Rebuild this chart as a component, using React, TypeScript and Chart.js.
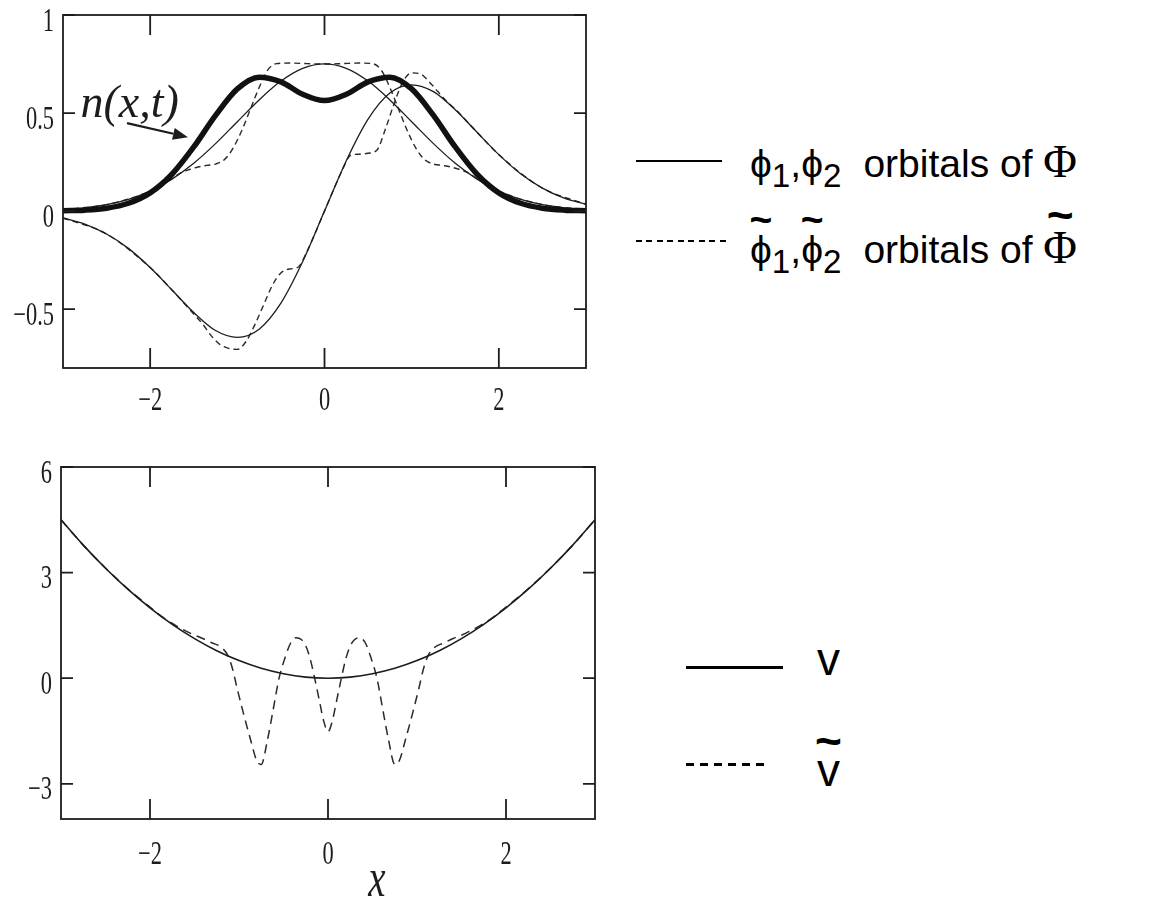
import React, { useEffect, useRef } from "react";
import { Chart, registerables } from "chart.js";

Chart.register(...registerables);

// ---------- upper panel: orbitals and the density n(x,t) ----------
const xGrid = [-3, -2.75, -2.5, -2.25, -2, -1.75, -1.5, -1.25, -1, -0.75, -0.5, -0.25, 0, 0.25, 0.5, 0.75, 1, 1.25, 1.5, 1.75, 2, 2.25, 2.5, 2.75, 3];

const densityN = [0.002, 0.005, 0.015, 0.04, 0.093, 0.188, 0.327, 0.488, 0.623, 0.683, 0.659, 0.596, 0.564, 0.596, 0.659, 0.683, 0.623, 0.488, 0.327, 0.188, 0.093, 0.04, 0.015, 0.005, 0.002];

const phiOne = [0.008, 0.017, 0.033, 0.06, 0.102, 0.163, 0.244, 0.344, 0.456, 0.567, 0.663, 0.728, 0.751, 0.728, 0.663, 0.567, 0.456, 0.344, 0.244, 0.163, 0.102, 0.06, 0.033, 0.017, 0.008];

const phiTwo = [-0.035, -0.066, -0.117, -0.19, -0.288, -0.402, -0.517, -0.609, -0.644, -0.602, -0.469, -0.257, 0, 0.257, 0.469, 0.602, 0.644, 0.609, 0.517, 0.402, 0.288, 0.19, 0.117, 0.066, 0.035];

const phiOneTildeX = [-3, -2.5, -2, -1.75, -1.65, -1.55, -1.45, -1.35, -1.25, -1.15, -1.05, -0.95, -0.85, -0.75, -0.65, -0.55, -0.4, -0.2, 0, 0.2, 0.4, 0.55, 0.65, 0.75, 0.85, 0.95, 1.05, 1.15, 1.25, 1.35, 1.45, 1.55, 1.65, 1.75, 2, 2.5, 3];
const phiOneTilde = [0.008, 0.033, 0.102, 0.165, 0.195, 0.212, 0.225, 0.233, 0.24, 0.262, 0.32, 0.41, 0.52, 0.63, 0.72, 0.752, 0.755, 0.752, 0.75, 0.752, 0.755, 0.752, 0.72, 0.63, 0.52, 0.41, 0.32, 0.262, 0.24, 0.233, 0.225, 0.212, 0.195, 0.165, 0.102, 0.033, 0.008];

const phiTwoTildeX = [-3, -2.5, -2, -1.75, -1.5, -1.4, -1.3, -1.2, -1.1, -1.0, -0.9, -0.8, -0.7, -0.6, -0.5, -0.4, -0.3, -0.2, -0.1, 0, 0.1, 0.2, 0.3, 0.4, 0.5, 0.6, 0.7, 0.8, 0.9, 1.0, 1.1, 1.2, 1.3, 1.4, 1.5, 1.75, 2, 2.5, 3];
const phiTwoTilde = [-0.035, -0.117, -0.288, -0.402, -0.525, -0.575, -0.635, -0.68, -0.7, -0.705, -0.665, -0.58, -0.48, -0.38, -0.315, -0.295, -0.285, -0.205, -0.105, 0, 0.105, 0.205, 0.285, 0.29, 0.295, 0.31, 0.42, 0.55, 0.66, 0.705, 0.7, 0.66, 0.61, 0.56, 0.52, 0.402, 0.288, 0.117, 0.035];

const topXTicks = [-2, 0, 2];
const topXTickLabels = ["\u22122", "0", "2"];
const topYTicks = [1, 0.5, 0, -0.5];
const topYTickLabels = ["1", "0.5", "0", "\u22120.5"];

// ---------- lower panel: potentials v and v-tilde ----------
const potentialV = [4.5, 3.78, 3.125, 2.53, 2.0, 1.53, 1.125, 0.78, 0.5, 0.28, 0.125, 0.03, 0, 0.03, 0.125, 0.28, 0.5, 0.78, 1.125, 1.53, 2.0, 2.53, 3.125, 3.78, 4.5];

const potentialTildeX = [-3, -2.75, -2.5, -2.25, -2, -1.85, -1.7, -1.55, -1.4, -1.3, -1.2, -1.12, -1.07, -1.02, -0.95, -0.87, -0.8, -0.75, -0.68, -0.62, -0.55, -0.48, -0.42, -0.36, -0.3, -0.25, -0.2, -0.15, -0.1, -0.05, 0, 0.05, 0.1, 0.15, 0.2, 0.25, 0.3, 0.36, 0.42, 0.48, 0.55, 0.62, 0.68, 0.75, 0.8, 0.87, 0.95, 1.02, 1.07, 1.12, 1.2, 1.3, 1.4, 1.55, 1.7, 1.85, 2, 2.25, 2.5, 2.75, 3];
const potentialTilde = [4.5, 3.78, 3.13, 2.54, 2.02, 1.72, 1.48, 1.28, 1.12, 1.0, 0.88, 0.62, 0.24, -0.3, -1.0, -1.75, -2.35, -2.45, -1.75, -0.95, 0.0, 0.6, 1.0, 1.15, 1.1, 0.92, 0.55, 0.0, -0.6, -1.2, -1.52, -1.2, -0.6, 0.0, 0.55, 0.92, 1.1, 1.15, 1.0, 0.6, 0.0, -0.95, -1.75, -2.45, -2.35, -1.75, -1.0, -0.3, 0.24, 0.62, 0.88, 1.0, 1.12, 1.28, 1.48, 1.72, 2.02, 2.54, 3.13, 3.78, 4.5];

const bottomXTicks = [-2, 0, 2];
const bottomXTickLabels = ["\u22122", "0", "2"];
const bottomYTicks = [6, 3, 0, -3];
const bottomYTickLabels = ["6", "3", "0", "\u22123"];

const INK = "#1c1c1c";

const points = (xs: number[], ys: number[]) => xs.map((x, i) => ({ x, y: ys[i] }));

type Deco = {
  xTicks: number[];
  xLabels: string[];
  yTicks: number[];
  yLabels: string[];
  xTickLen: number;
  yTickLen: number;
  xLabelDrop: number;
  note?: { text: string; x: number; y: number; from: [number, number]; to: [number, number] };
  title?: { text: string; x: number; drop: number };
};

function condensedText(ctx: CanvasRenderingContext2D, text: string, x: number, y: number, align: CanvasTextAlign, squeeze: number) {
  ctx.save();
  ctx.translate(x, y);
  ctx.scale(squeeze, 1);
  ctx.textAlign = align;
  ctx.textBaseline = "alphabetic";
  ctx.fillText(text, 0, 0);
  ctx.restore();
}

// Box frame with inward ticks on all four sides, plus tick labels and notes.
function framePlugin(d: Deco) {
  return {
    id: "boxFrame",
    afterDraw(chart: any) {
      const { ctx, chartArea: a } = chart;
      const sx = chart.scales.x;
      const sy = chart.scales.y;
      ctx.save();
      ctx.strokeStyle = INK;
      ctx.lineWidth = 1.8;
      ctx.strokeRect(a.left, a.top, a.right - a.left, a.bottom - a.top);
      ctx.beginPath();
      d.xTicks.forEach((v) => {
        const p = sx.getPixelForValue(v);
        ctx.moveTo(p, a.bottom);
        ctx.lineTo(p, a.bottom - d.xTickLen);
        ctx.moveTo(p, a.top);
        ctx.lineTo(p, a.top + d.xTickLen);
      });
      d.yTicks.forEach((v) => {
        const p = sy.getPixelForValue(v);
        ctx.moveTo(a.left, p);
        ctx.lineTo(a.left + d.yTickLen, p);
        ctx.moveTo(a.right, p);
        ctx.lineTo(a.right - d.yTickLen, p);
      });
      ctx.stroke();

      ctx.fillStyle = INK;
      ctx.font = "33px 'Liberation Serif', 'DejaVu Serif', serif";
      d.xTicks.forEach((v, i) => condensedText(ctx, d.xLabels[i], sx.getPixelForValue(v), a.bottom + d.xLabelDrop, "center", 0.68));
      d.yTicks.forEach((v, i) => condensedText(ctx, d.yLabels[i], a.left - 9, sy.getPixelForValue(v) + 15.5, "right", 0.68));

      if (d.note) {
        const n = d.note;
        ctx.font = "italic 46px 'Liberation Serif', 'DejaVu Serif', serif";
        ctx.textAlign = "left";
        ctx.textBaseline = "alphabetic";
        ctx.fillText(n.text, sx.getPixelForValue(n.x), sy.getPixelForValue(n.y));
        const x0 = sx.getPixelForValue(n.from[0]);
        const y0 = sy.getPixelForValue(n.from[1]);
        const x1 = sx.getPixelForValue(n.to[0]);
        const y1 = sy.getPixelForValue(n.to[1]);
        const ang = Math.atan2(y1 - y0, x1 - x0);
        const head = 15;
        const half = 6;
        const bx = x1 - head * Math.cos(ang);
        const by = y1 - head * Math.sin(ang);
        ctx.lineWidth = 2.2;
        ctx.beginPath();
        ctx.moveTo(x0, y0);
        ctx.lineTo(bx, by);
        ctx.stroke();
        ctx.beginPath();
        ctx.moveTo(x1, y1);
        ctx.lineTo(bx + half * Math.sin(ang), by - half * Math.cos(ang));
        ctx.lineTo(bx - half * Math.sin(ang), by + half * Math.cos(ang));
        ctx.closePath();
        ctx.fill();
      }
      if (d.title) {
        ctx.font = "italic 54px 'Liberation Serif', 'DejaVu Serif', serif";
        condensedText(ctx, d.title.text, sx.getPixelForValue(d.title.x), a.bottom + d.title.drop, "center", 0.72);
      }
      ctx.restore();
    },
  };
}

function baseOptions(pad: { left: number; top: number; right: number; bottom: number }, yMin: number, yMax: number) {
  return {
    animation: false as const,
    responsive: false,
    events: [] as any[],
    layout: { padding: pad },
    plugins: { legend: { display: false }, tooltip: { enabled: false } },
    elements: { point: { radius: 0 }, line: { cubicInterpolationMode: "monotone" as const } },
    scales: {
      x: { type: "linear" as const, min: -3, max: 3, display: false },
      y: { type: "linear" as const, min: yMin, max: yMax, display: false },
    },
  };
}

function OrbitalPanel() {
  const ref = useRef<HTMLCanvasElement>(null);
  useEffect(() => {
    if (!ref.current) return;
    const chart = new Chart(ref.current, {
      type: "line",
      data: {
        datasets: [
          { label: "n(x,t)", data: points(xGrid, densityN), borderColor: "#111", borderWidth: 5.5, fill: false },
          { label: "phi1", data: points(xGrid, phiOne), borderColor: INK, borderWidth: 1.3, fill: false },
          { label: "phi2", data: points(xGrid, phiTwo), borderColor: INK, borderWidth: 1.3, fill: false },
          { label: "phi1~", data: points(phiOneTildeX, phiOneTilde), borderColor: "#2a2a2a", borderWidth: 1.4, borderDash: [6, 4], fill: false },
          { label: "phi2~", data: points(phiTwoTildeX, phiTwoTilde), borderColor: "#2a2a2a", borderWidth: 1.4, borderDash: [6, 4], fill: false },
        ],
      },
      options: baseOptions({ left: 63, top: 15, right: 14, bottom: 52 }, -0.8, 1) as any,
      plugins: [
        framePlugin({
          xTicks: topXTicks,
          xLabels: topXTickLabels,
          yTicks: topYTicks,
          yLabels: topYTickLabels,
          xTickLen: 20,
          yTickLen: 12,
          xLabelDrop: 42,
          note: { text: "n(x,t)", x: -2.8, y: 0.479, from: [-2.266, 0.449], to: [-1.566, 0.377] },
        }),
      ],
    });
    return () => chart.destroy();
  }, []);
  return <canvas ref={ref} width={600} height={420} style={{ position: "absolute", left: 0, top: 0 }} />;
}

function PotentialPanel() {
  const ref = useRef<HTMLCanvasElement>(null);
  useEffect(() => {
    if (!ref.current) return;
    const chart = new Chart(ref.current, {
      type: "line",
      data: {
        datasets: [
          { label: "v", data: points(xGrid, potentialV), borderColor: INK, borderWidth: 1.6, fill: false },
          { label: "v~", data: points(potentialTildeX, potentialTilde), borderColor: "#2a2a2a", borderWidth: 1.5, borderDash: [9, 6], fill: false },
        ],
      },
      options: baseOptions({ left: 61, top: 27, right: 25, bottom: 82 }, -4, 6) as any,
      plugins: [
        framePlugin({
          xTicks: bottomXTicks,
          xLabels: bottomXTickLabels,
          yTicks: bottomYTicks,
          yLabels: bottomYTickLabels,
          xTickLen: 20,
          yTickLen: 12,
          xLabelDrop: 45,
          title: { text: "x", x: 0.55, drop: 77 },
        }),
      ],
    });
    return () => chart.destroy();
  }, []);
  return <canvas ref={ref} width={620} height={461} style={{ position: "absolute", left: 0, top: 440 }} />;
}

const Tilde = ({ children, lift }: { children: React.ReactNode; lift: string }) => (
  <span style={{ position: "relative", display: "inline-block" }}>
    {children}
    <span style={{ position: "absolute", left: "-20%", right: "-20%", top: lift, textAlign: "center", fontFamily: "'Liberation Sans', sans-serif", fontWeight: 700 }}>~</span>
  </span>
);

const sub: React.CSSProperties = { fontSize: "0.85em", position: "relative", top: "0.3em" };
const serifPhi: React.CSSProperties = { fontFamily: "'Liberation Serif', 'DejaVu Serif', serif", fontSize: 46 };
const sansFont = "'Liberation Sans', 'DejaVu Sans', sans-serif";

function Legends() {
  const row: React.CSSProperties = { position: "absolute", whiteSpace: "nowrap", fontFamily: sansFont, fontSize: 39, lineHeight: "44px", color: "#000" };
  return (
    <>
      <div style={{ position: "absolute", left: 636, top: 160, width: 86, height: 2, background: "#000" }} />
      <div style={{ ...row, left: 750, top: 140 }}>
        {"\u03D5"}<span style={sub}>1</span>,{"\u03D5"}<span style={sub}>2</span>
        <span style={{ marginLeft: 22 }}>orbitals of </span>
        <span style={serifPhi}>{"\u03A6"}</span>
      </div>

      <div style={{ position: "absolute", left: 636, top: 240, width: 94, height: 1.5, background: "repeating-linear-gradient(to right, #000 0 6px, transparent 6px 10.5px)" }} />
      <div style={{ ...row, left: 750, top: 226 }}>
        <Tilde lift="-0.78em">{"\u03D5"}</Tilde><span style={sub}>1</span>,<Tilde lift="-0.78em">{"\u03D5"}</Tilde><span style={sub}>2</span>
        <span style={{ marginLeft: 22 }}>orbitals of </span>
        <span style={serifPhi}><Tilde lift="-0.72em">{"\u03A6"}</Tilde></span>
      </div>

      <div style={{ position: "absolute", left: 686, top: 666, width: 97, height: 3, background: "#000" }} />
      <div style={{ ...row, left: 817, top: 634, fontSize: 46, lineHeight: "50px" }}>v</div>

      <div style={{ position: "absolute", left: 686, top: 763, width: 78, height: 2.5, background: "repeating-linear-gradient(to right, #000 0 8px, transparent 8px 14px)" }} />
      <div style={{ ...row, left: 817, top: 745, fontSize: 46, lineHeight: "50px" }}>
        <Tilde lift="-0.62em">v</Tilde>
      </div>
    </>
  );
}

export default function App() {
  return (
    <div style={{ position: "absolute", left: 0, top: 0, width: 1167, height: 901, background: "#fff", overflow: "hidden" }}>
      <OrbitalPanel />
      <PotentialPanel />
      <Legends />
    </div>
  );
}
